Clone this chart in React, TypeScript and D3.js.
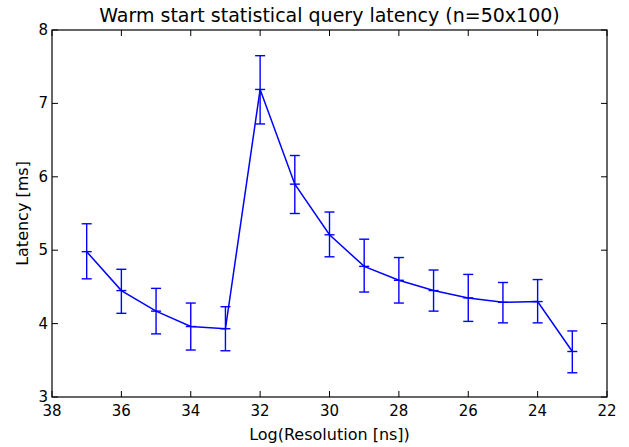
import React, { useEffect, useRef } from 'react';
import * as d3 from 'd3';

// values
const resolution = [37, 36, 35, 34, 33, 32, 31, 30, 29, 28, 27, 26, 25, 24, 23];
const latency = [4.98, 4.45, 4.17, 3.96, 3.93, 7.19, 5.9, 5.21, 4.78, 4.59, 4.45, 4.35, 4.29, 4.3, 3.62];
const upper = [5.36, 4.74, 4.48, 4.28, 4.23, 7.65, 6.29, 5.52, 5.15, 4.9, 4.73, 4.67, 4.56, 4.6, 3.9];
const lower = [4.61, 4.14, 3.86, 3.64, 3.63, 6.72, 5.5, 4.91, 4.43, 4.28, 4.17, 4.03, 4.01, 4.01, 3.33];
const xTicks = [38, 36, 34, 32, 30, 28, 26, 24, 22];
const yTicks = [3, 4, 5, 6, 7, 8];

export default function App() {
    const ref = useRef<SVGSVGElement | null>(null);

    useEffect(() => {
        document.body.style.margin = '0';
        const svg = d3.select(ref.current);
        svg.selectAll('*').remove();

        const width = 629;
        const height = 447;
        const m = { left: 52, right: 22, top: 30, bottom: 50 };
        const font = 'DejaVu Sans, sans-serif';
        const blue = '#0000ff';

        const x = d3.scaleLinear().domain([38, 22]).range([m.left, width - m.right]);
        const y = d3.scaleLinear().domain([3, 8]).range([height - m.bottom, m.top]);

        const pts = resolution.map((r, i) => ({ r, v: latency[i], hi: upper[i], lo: lower[i] }));

        // title
        svg.append('text')
            .attr('x', (m.left + width - m.right) / 2)
            .attr('y', 22)
            .attr('text-anchor', 'middle')
            .style('font-family', font)
            .style('font-size', '19px')
            .text('Warm start statistical query latency (n=50x100)');

        const tl = 6;
        const g = svg.append('g');

        // ticks, inside on all four sides
        xTicks.forEach(t => {
            g.append('line').attr('x1', x(t)).attr('x2', x(t))
                .attr('y1', y(3)).attr('y2', y(3) - tl).attr('stroke', '#000');
            g.append('line').attr('x1', x(t)).attr('x2', x(t))
                .attr('y1', y(8)).attr('y2', y(8) + tl).attr('stroke', '#000');
            g.append('text').attr('x', x(t)).attr('y', y(3) + 19)
                .attr('text-anchor', 'middle')
                .style('font-family', font).style('font-size', '15px')
                .text(t);
        });
        yTicks.forEach(t => {
            g.append('line').attr('x1', x(38)).attr('x2', x(38) + tl)
                .attr('y1', y(t)).attr('y2', y(t)).attr('stroke', '#000');
            g.append('line').attr('x1', x(22)).attr('x2', x(22) - tl)
                .attr('y1', y(t)).attr('y2', y(t)).attr('stroke', '#000');
            g.append('text').attr('x', x(38) - 4).attr('y', y(t) + 5)
                .attr('text-anchor', 'end')
                .style('font-family', font).style('font-size', '15px')
                .text(t);
        });

        // error bars
        const cap = 5;
        const eb = svg.append('g').attr('stroke', blue).attr('stroke-width', 1.4);
        pts.forEach(d => {
            eb.append('line').attr('x1', x(d.r)).attr('x2', x(d.r)).attr('y1', y(d.hi)).attr('y2', y(d.lo));
            [d.hi, d.lo, d.v].forEach(val => {
                eb.append('line').attr('x1', x(d.r) - cap).attr('x2', x(d.r) + cap)
                    .attr('y1', y(val)).attr('y2', y(val));
            });
        });

        const line = d3.line<any>().x(d => x(d.r)).y(d => y(d.v));
        svg.append('path').datum(pts).attr('d', line)
            .attr('fill', 'none').attr('stroke', blue).attr('stroke-width', 1.5);

        // frame
        svg.append('rect')
            .attr('x', m.left).attr('y', m.top)
            .attr('width', width - m.left - m.right).attr('height', height - m.top - m.bottom)
            .attr('fill', 'none').attr('stroke', '#000').attr('stroke-width', 1.2);

        // axis labels
        svg.append('text')
            .attr('x', (m.left + width - m.right) / 2)
            .attr('y', 440)
            .attr('text-anchor', 'middle')
            .style('font-family', font).style('font-size', '16px')
            .text('Log(Resolution [ns])');
        svg.append('text')
            .attr('transform', `translate(28,${(m.top + height - m.bottom) / 2}) rotate(-90)`)
            .attr('text-anchor', 'middle')
            .style('font-family', font).style('font-size', '16px')
            .text('Latency [ms]');
    }, []);

    return <svg ref={ref} width={629} height={447} style={{ display: 'block', background: '#fff' }} />;
}
